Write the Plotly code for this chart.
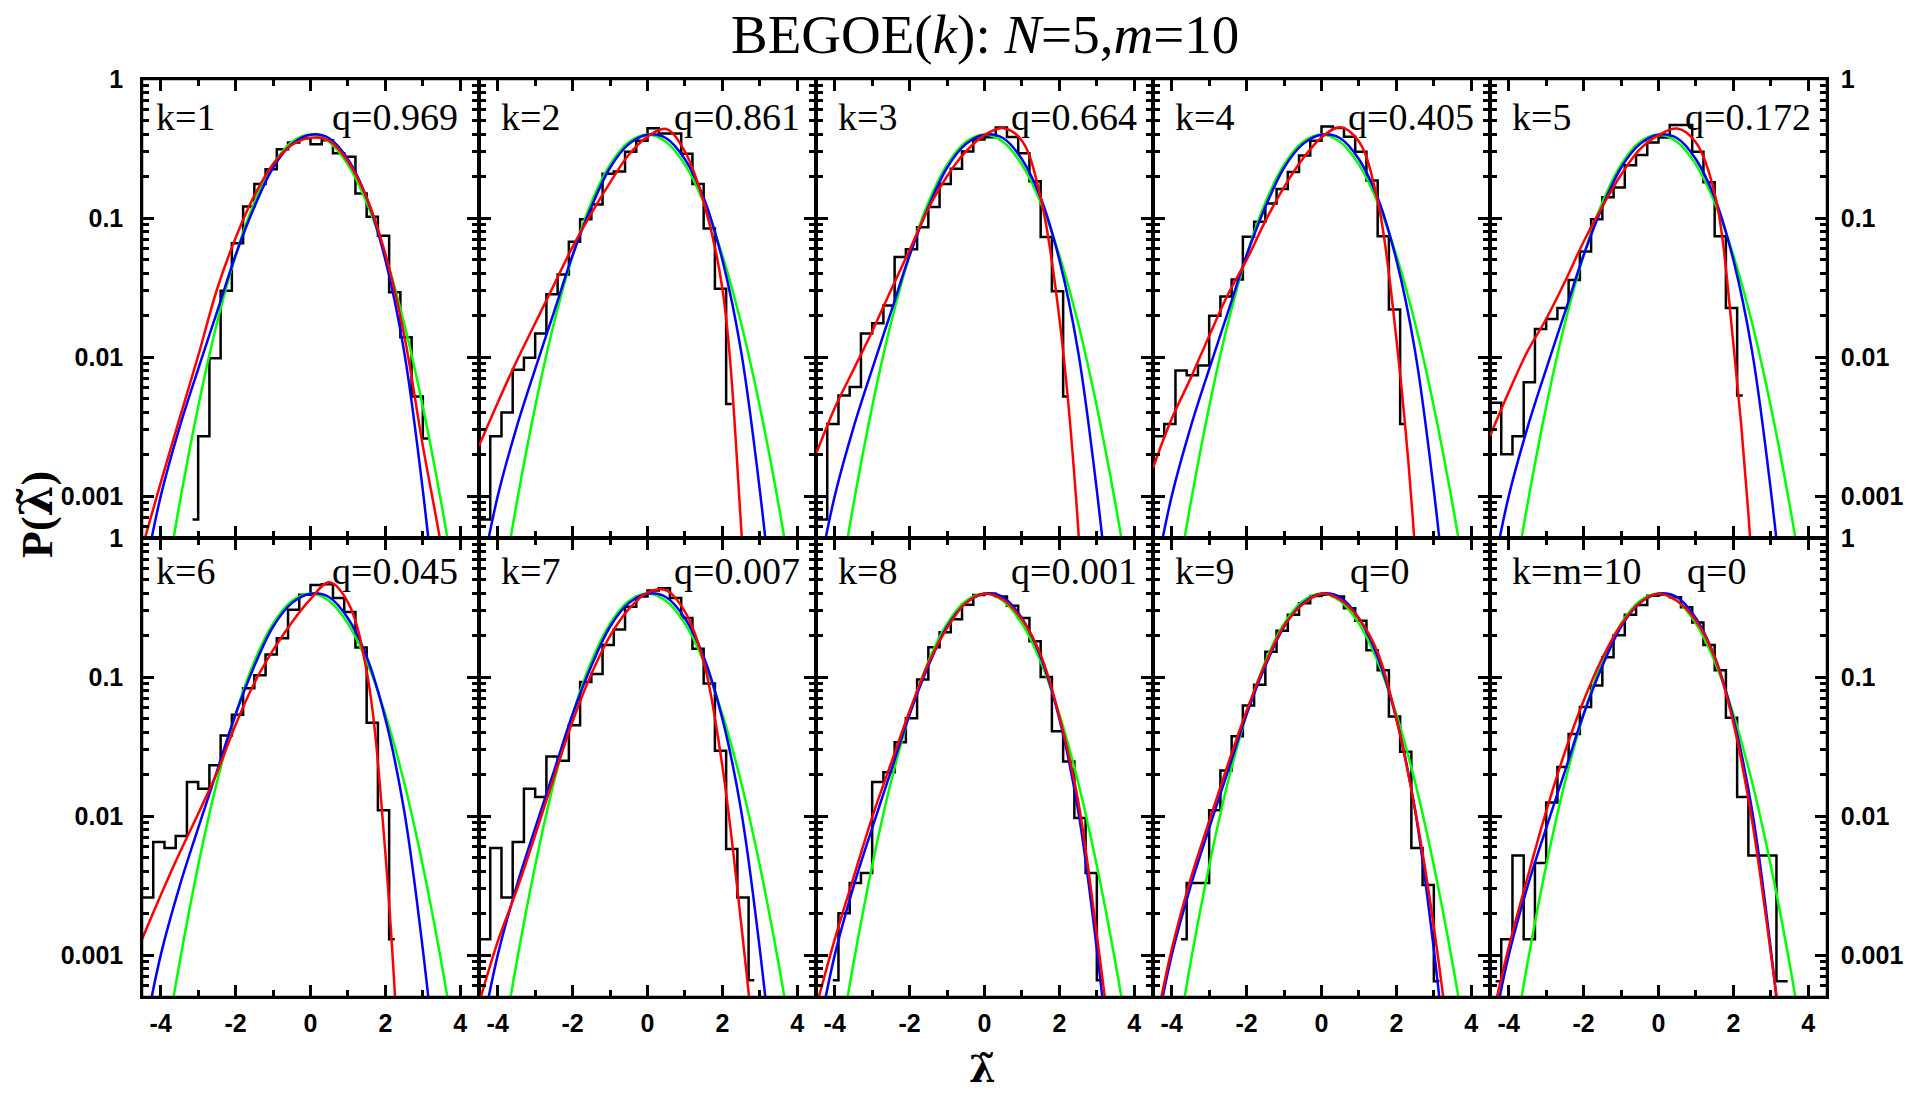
import plotly.graph_objects as go
from plotly.subplots import make_subplots

N = None
# ---------------- data ----------------
BIN_CENTERS = [-4.65, -4.35, -4.05, -3.75, -3.45, -3.15, -2.85, -2.55, -2.25, -1.95,
               -1.65, -1.35, -1.05, -0.75, -0.45, -0.15, 0.15, 0.45, 0.75, 1.05,
               1.35, 1.65, 1.95, 2.25, 2.55, 2.85, 3.15, 3.45]

HIST_K1 = [N, N, N, N, N, 0.00068, 0.0027, 0.0098, 0.030, 0.066, 0.121, 0.176, 0.224, 0.313,
           0.349, 0.375, 0.339, 0.363, 0.292, 0.276, 0.150, 0.102, 0.0746, 0.0293, 0.0139, 0.0052, 0.0026, N]
HIST_K2 = [0.00068, 0.00068, 0.0027, 0.0040, 0.0081, 0.0099, 0.0148, 0.0283, 0.0392, 0.0675, 0.098, 0.125,
           0.208, 0.216, 0.30, 0.36, 0.443, 0.405, 0.405, 0.29, 0.176, 0.084, 0.031, 0.0046, N, N, N, N]
HIST_K3 = [0.00068, 0.00068, 0.0033, 0.0053, 0.0061, 0.0148, 0.0175, 0.0235, 0.0525, 0.0596, 0.086, 0.12,
           0.176, 0.226, 0.301, 0.367, 0.381, 0.448, 0.382, 0.292, 0.184, 0.073, 0.0298, 0.0052, N, N, N, N]
HIST_K4 = [0.0027, 0.0027, 0.0033, 0.0080, 0.0074, 0.0087, 0.0198, 0.0273, 0.0362, 0.0735, 0.094, 0.127,
           0.162, 0.214, 0.282, 0.36, 0.455, 0.445, 0.385, 0.30, 0.186, 0.074, 0.0220, 0.0033, N, N, N, N]
HIST_K5 = [0.0047, 0.0047, 0.0020, 0.0027, 0.0066, 0.0159, 0.0188, 0.0225, 0.0358, 0.0575, 0.098, 0.141,
           0.166, 0.24, 0.284, 0.35, 0.38, 0.467, 0.467, 0.30, 0.181, 0.074, 0.0225, 0.0053, N, N, N, N]
HIST_K6 = [0.0026, 0.0026, 0.0065, 0.0059, 0.0072, 0.0176, 0.0157, 0.0232, 0.038, 0.0535, 0.083, 0.103,
           0.145, 0.19, 0.305, 0.39, 0.46, 0.465, 0.37, 0.294, 0.163, 0.047, 0.011, 0.0013, N, N, N, N]
HIST_K7 = [0.0013, 0.0013, 0.0059, 0.0026, 0.0065, 0.0157, 0.0137, 0.0268, 0.025, 0.045, 0.092, 0.105,
           0.17, 0.22, 0.32, 0.38, 0.42, 0.435, 0.37, 0.266, 0.16, 0.09, 0.0295, 0.0058, 0.0026, 0.00066, N, N]
HIST_K8 = [N, N, 0.00066, 0.002, 0.0033, 0.0039, 0.0176, 0.0207, 0.034, 0.0505, 0.096, 0.164, 0.21, 0.26,
           0.331, 0.389, 0.398, 0.38, 0.326, 0.266, 0.181, 0.10, 0.0407, 0.0247, 0.0097, 0.0039, 0.00066, N]
HIST_K9 = [N, N, N, 0.0013, 0.0033, 0.0033, 0.011, 0.0213, 0.0375, 0.0625, 0.088, 0.152, 0.215, 0.28,
           0.339, 0.383, 0.39, 0.38, 0.312, 0.254, 0.156, 0.112, 0.052, 0.029, 0.0059, 0.0032, 0.00065, N]
HIST_K10 = [N, 0.00065, 0.0013, 0.0052, 0.0013, 0.0046, 0.0125, 0.0225, 0.039, 0.061, 0.087, 0.139, 0.2,
            0.28, 0.33, 0.385, 0.39, 0.375, 0.318, 0.247, 0.17, 0.112, 0.051, 0.0137, 0.0052, 0.0052, N, 0.00065]

CURVE_X = [-4.5, -4.0, -3.5, -3.0, -2.5, -2.0, -1.5, -1.0, -0.5, 0.0,
           0.5, 1.0, 1.5, 2.0, 2.5, 3.0, 3.5, 4.0, 4.5]
GREEN = [1.6e-5, 1.34e-4, 8.7e-4, 0.0044, 0.0175, 0.054, 0.1295, 0.242, 0.352, 0.399,
         0.352, 0.242, 0.1295, 0.054, 0.0175, 0.0044, 8.7e-4, 1.34e-4, 1.6e-5]
BLUE = [0.00022, 0.001, 0.0031, 0.0082, 0.021, 0.054, 0.12, 0.23, 0.34, 0.398,
        0.375, 0.265, 0.14, 0.05, 0.011, 0.0011, 6e-5, 2e-6, N]
RED_K1 = [4.2e-4, 0.00125, 0.0036, 0.0102, 0.0305, 0.072, 0.145, 0.245, 0.335, 0.378,
          0.36, 0.255, 0.14, 0.055, 0.0145, 0.0023, 0.00042, 5e-5, 4e-6]
RED_K2 = [0.0023, 0.0047, 0.0093, 0.0175, 0.033, 0.062, 0.108, 0.18, 0.285, 0.385,
          0.437, 0.30, 0.13, 0.031, 0.0006, 1e-6, N, N, N]
RED_K3 = [0.002, 0.0043, 0.0081, 0.0153, 0.0303, 0.059, 0.117, 0.2, 0.30, 0.395,
          0.443, 0.36, 0.14, 0.019, 0.0006, 1e-6, N, N, N]
RED_K4 = [0.0016, 0.0036, 0.007, 0.0142, 0.0282, 0.05, 0.095, 0.167, 0.267, 0.38,
          0.45, 0.355, 0.133, 0.0135, 0.0004, 5e-7, N, N, N]
RED_K5 = [0.0027, 0.0056, 0.011, 0.0188, 0.0348, 0.0676, 0.121, 0.205, 0.312, 0.395,
          0.44, 0.349, 0.15, 0.0125, 0.0003, 2e-7, N, N, N]
RED_K6 = [0.0013, 0.0027, 0.0054, 0.0104, 0.0205, 0.0454, 0.0906, 0.156, 0.247, 0.363,
          0.48, 0.345, 0.11, 0.0054, 3e-5, 1e-8, N, N, N]
RED_K7 = [0.00045, 0.00125, 0.0029, 0.0073, 0.019, 0.048, 0.105, 0.198, 0.308, 0.405,
          0.42, 0.295, 0.129, 0.0228, 0.0017, 8e-5, 1e-6, N, N]
RED_K8 = [0.00042, 0.0013, 0.0036, 0.0098, 0.0238, 0.057, 0.125, 0.225, 0.34, 0.397,
          0.36, 0.259, 0.145, 0.052, 0.0129, 0.0014, 0.00011, 4e-6, N]
RED_K9 = [0.00025, 0.0011, 0.0035, 0.0092, 0.0235, 0.057, 0.125, 0.234, 0.333, 0.398,
          0.36, 0.264, 0.151, 0.05, 0.0111, 0.0016, 0.00013, 3e-6, N]
RED_K10 = [0.0003, 0.00114, 0.0036, 0.0108, 0.0289, 0.0675, 0.137, 0.238, 0.343, 0.398,
           0.352, 0.254, 0.139, 0.0467, 0.0092, 0.00103, 9e-5, 3e-6, N]

K_LABELS = ["k=1", "k=2", "k=3", "k=4", "k=5", "k=6", "k=7", "k=8", "k=9", "k=m=10"]
Q_LABELS = ["q=0.969", "q=0.861", "q=0.664", "q=0.405", "q=0.172",
            "q=0.045", "q=0.007", "q=0.001", "q=0", "q=0"]

X_TICKS = [-4, -2, 0, 2, 4]
X_TICK_LABELS = ["-4", "-2", "0", "2", "4"]
Y_TICKS = [0.001, 0.01, 0.1, 1]
Y_TICK_LABELS = ["0.001", "0.01", "0.1", "1"]

HISTS = [HIST_K1, HIST_K2, HIST_K3, HIST_K4, HIST_K5, HIST_K6, HIST_K7, HIST_K8, HIST_K9, HIST_K10]
REDS = [RED_K1, RED_K2, RED_K3, RED_K4, RED_K5, RED_K6, RED_K7, RED_K8, RED_K9, RED_K10]

# ---------------- figure ----------------
W, H = 1909, 1100
ML, MR, MT, MB = 142, 82, 79, 103
LW = 2.5          # curve / tick width
AXW = 1.5         # each axis line (adjacent panels double up at shared borders)
SERIF = "Liberation Serif, Times New Roman, serif"
SANS = "Liberation Sans, Arial, sans-serif"
LAMBDA_TILDE = "<span style=\"font-family:'DejaVu Serif'\">\u03bb\u0303</span>"

fig = make_subplots(rows=2, cols=5, horizontal_spacing=0, vertical_spacing=0)

for i in range(10):
    r, c = i // 5 + 1, i % 5 + 1
    fig.add_trace(go.Scatter(x=BIN_CENTERS, y=HISTS[i], mode="lines", connectgaps=True,
                             line=dict(color="black", width=LW, shape="hvh"),
                             showlegend=False, hoverinfo="skip"), row=r, col=c)
    fig.add_trace(go.Scatter(x=CURVE_X, y=GREEN, mode="lines",
                             line=dict(color="#00FF00", width=LW, shape="spline", smoothing=1.0),
                             showlegend=False, hoverinfo="skip"), row=r, col=c)
    fig.add_trace(go.Scatter(x=CURVE_X, y=BLUE, mode="lines",
                             line=dict(color="#0000FF", width=LW, shape="spline", smoothing=1.0),
                             showlegend=False, hoverinfo="skip"), row=r, col=c)
    fig.add_trace(go.Scatter(x=CURVE_X, y=REDS[i], mode="lines",
                             line=dict(color="#FF0000", width=LW, shape="spline", smoothing=1.0),
                             showlegend=False, hoverinfo="skip"), row=r, col=c)

minor_y = []
for dec in [0.0001, 0.001, 0.01, 0.1]:
    for m in range(2, 10):
        minor_y.append(round(m * dec, 6))

tickfont = dict(family=SANS, size=25, color="black", weight="bold")

for i in range(10):
    r, c = i // 5 + 1, i % 5 + 1
    fig.update_xaxes(row=r, col=c, range=[-4.5, 4.5], tickmode="array", tickvals=X_TICKS,
                     ticktext=X_TICK_LABELS, ticks="inside", ticklen=12, tickwidth=LW,
                     tickcolor="black", showline=True, linewidth=AXW, linecolor="black",
                     mirror="ticks", showgrid=False, zeroline=False,
                     showticklabels=(r == 2), tickfont=tickfont, ticklabelstandoff=3,
                     automargin=False,
                     minor=dict(ticks="inside", ticklen=7, tickwidth=LW, tickcolor="black",
                                tickmode="linear", tick0=0, dtick=1, showgrid=False))
    fig.update_yaxes(row=r, col=c, type="log", range=[-3.30103, 0], tickmode="array",
                     tickvals=Y_TICKS, ticktext=Y_TICK_LABELS, ticks="inside", ticklen=12,
                     tickwidth=LW, tickcolor="black", showline=True, linewidth=AXW,
                     linecolor="black", mirror="ticks", showgrid=False, zeroline=False,
                     showticklabels=(c in (1, 5)), side=("right" if c == 5 else "left"),
                     tickfont=tickfont, ticklabelstandoff=(7 if c == 5 else 12), automargin=False,
                     minor=dict(ticks="inside", ticklen=7, tickwidth=LW, tickcolor="black",
                                tickmode="array", tickvals=minor_y, showgrid=False))

annotations = []
for i in range(10):
    r, c = i // 5 + 1, i % 5 + 1
    suffix = "" if i == 0 else str(i + 1)
    ylab = 0.917 if r == 1 else 0.928
    kx = 0.035 if c == 1 else 0.058
    annotations.append(dict(text=K_LABELS[i], xref=f"x{suffix} domain", yref=f"y{suffix} domain",
                            x=kx, y=ylab, xanchor="left", yanchor="middle", showarrow=False,
                            font=dict(family=SERIF, size=38, color="black")))
    if Q_LABELS[i] == "q=0":
        qx = 0.765
    elif c == 1:
        qx = 0.945
    else:
        qx = 0.958
    annotations.append(dict(text=Q_LABELS[i], xref=f"x{suffix} domain", yref=f"y{suffix} domain",
                            x=qx, y=ylab, xanchor="right", yanchor="middle", showarrow=False,
                            font=dict(family=SERIF, size=38, color="black")))

ph = H - MT - MB
pw = W - ML - MR


def px_x(x):
    return (x - ML) / pw


def px_y(y):
    return (H - MB - y) / ph


annotations.append(dict(text="BEGOE(<i>k</i>): <i>N</i>=5,<i>m</i>=10", xref="paper", yref="paper",
                        x=0.5, y=px_y(34.5), xanchor="center", yanchor="middle",
                        showarrow=False, font=dict(family=SERIF, size=55, color="black")))
annotations.append(dict(text="<b>P(" + LAMBDA_TILDE + ")</b>", xref="paper", yref="paper",
                        x=px_x(36), y=px_y(515), xanchor="center", yanchor="middle",
                        textangle=-90, showarrow=False, font=dict(family=SERIF, size=44, color="black")))
annotations.append(dict(text="<b>" + LAMBDA_TILDE + "</b>", xref="paper", yref="paper",
                        x=px_x(982.6), y=px_y(1068), xanchor="center", yanchor="middle",
                        showarrow=False, font=dict(family=SERIF, size=38, color="black")))

fig.update_layout(width=W, height=H, template="none", autosize=False,
                  margin=dict(l=ML, r=MR, t=MT, b=MB, pad=0),
                  paper_bgcolor="white", plot_bgcolor="white",
                  showlegend=False, annotations=annotations,
                  shapes=[dict(type="rect", xref="paper", yref="paper", x0=0, y0=0, x1=1, y1=1,
                               line=dict(color="black", width=2.5), fillcolor="rgba(0,0,0,0)",
                               layer="above")])

fig.write_html("out.html")
